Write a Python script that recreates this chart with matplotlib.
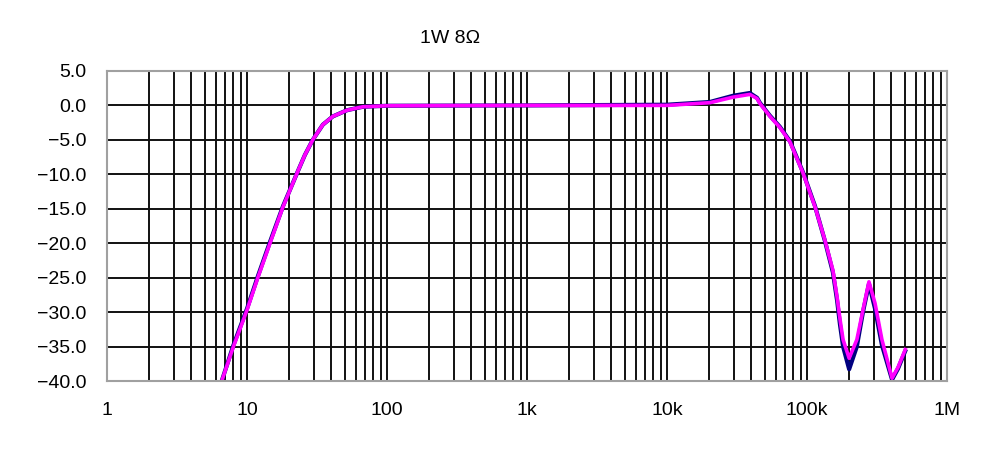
import matplotlib
matplotlib.use("Agg")
from matplotlib import pyplot as plt
from matplotlib.ticker import FixedLocator, LogLocator, NullFormatter
import numpy as np

plt.rcParams['font.family'] = ['Liberation Sans', 'DejaVu Sans']

title = "1W 8\u03a9"

# frequency response, magenta channel
freq_m = [6.6, 8.0, 10.0, 12.0, 14.6, 18.1, 22.8, 25.9, 29.5, 34.8, 41.0, 51.8,
          67.0, 100, 1000, 10000, 20300, 29600, 39000, 44000, 46000, 54400,
          64000, 75600, 93600, 114000, 134000, 153000, 164000, 172000, 181000,
          200000, 227000, 251000, 277000, 306000, 343000, 405000, 447000, 509000]
db_m = [-40.0, -35.0, -29.7, -24.9, -20.0, -14.7, -9.8, -7.2, -5.0, -2.8, -1.6,
        -0.7, -0.2, -0.05, 0.0, 0.0, 0.4, 1.2, 1.6, 1.0, 0.3, -1.6,
        -3.2, -5.3, -9.8, -14.7, -19.5, -23.9, -27.8, -31.0, -34.0,
        -36.7, -34.0, -29.7, -25.6, -28.7, -34.0, -39.6, -38.0, -35.2]

# navy channel (mostly hidden beneath magenta)
freq_n = [6.6, 8.0, 10.0, 12.0, 14.6, 18.1, 22.8, 25.9, 29.5, 34.8, 41.0, 51.8,
          67.0, 100, 1000, 10000, 20300, 29600, 39000, 44000, 46000, 54400,
          64000, 75600, 93600, 114000, 134000, 153000, 164000, 172000, 181000,
          200000, 227000, 251000, 277000, 306000, 343000, 405000, 447000, 509000]
db_n = [-40.0, -34.8, -29.5, -24.7, -19.8, -14.6, -9.8, -7.2, -5.0, -2.8, -1.6,
        -0.7, -0.2, -0.05, 0.0, 0.1, 0.5, 1.4, 1.8, 1.1, 0.4, -1.5,
        -3.1, -5.2, -9.7, -14.6, -19.6, -24.2, -28.3, -31.8, -35.0,
        -38.3, -35.0, -30.0, -25.9, -29.5, -34.8, -39.8, -38.2, -35.4]

x_ticks = [1, 10, 100, 1e3, 1e4, 1e5, 1e6]
x_labels = ["1", "10", "100", "1k", "10k", "100k", "1M"]
y_ticks = [5, 0, -5, -10, -15, -20, -25, -30, -35, -40]


def main():
    fig = plt.figure(figsize=(10, 4.5), dpi=100)
    ax = fig.add_axes([0.107, 0.1533, 0.84, 0.689])

    ax.plot(freq_n, db_n, color="#000080", lw=3, solid_capstyle="butt")
    ax.plot(freq_m, db_m, color="#ff00ff", lw=2.6, solid_capstyle="butt")

    ax.set_xscale("log")
    ax.set_xlim(1, 1e6)
    ax.set_ylim(-40, 5)
    ax.xaxis.set_major_locator(FixedLocator(x_ticks))
    ax.xaxis.set_minor_locator(LogLocator(base=10, subs=np.arange(2, 10)))
    ax.xaxis.set_minor_formatter(NullFormatter())
    ax.set_xticks(x_ticks)
    ax.set_xticklabels(x_labels)
    ax.set_yticks(y_ticks)
    ax.set_yticklabels([("%.1f" % v).replace("-", "\u2212") for v in y_ticks])

    ax.grid(True, which="both", axis="x", color="#111111", lw=1.4)
    ax.grid(True, which="major", axis="y", color="#111111", lw=1.4)
    ax.set_axisbelow(True)
    ax.tick_params(axis="both", which="both", length=0, labelsize=14)
    ax.tick_params(axis="x", pad=15)
    ax.tick_params(axis="y", pad=15)
    for s in ax.spines.values():
        s.set_color("#a0a0a0")
        s.set_linewidth(1.5)

    fig.text(0.45, 0.915, title, ha="center", va="center", fontsize=14)
    plt.savefig("out.png", dpi=100)


if __name__ == "__main__":
    main()
